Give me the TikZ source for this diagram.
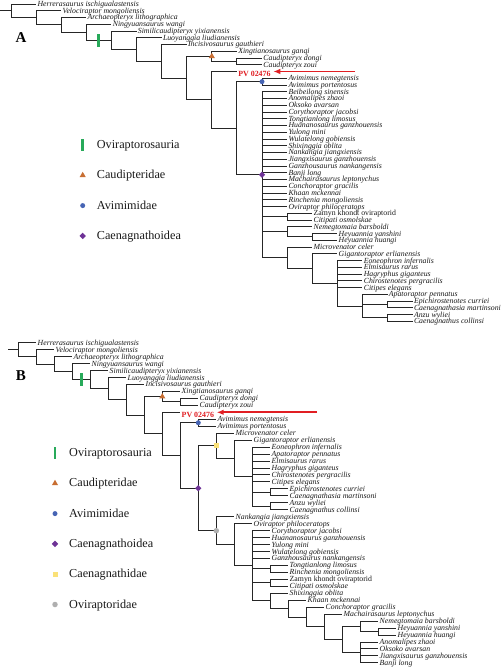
\documentclass[tikz,border=0pt]{standalone}
\usepackage{fontspec}
\setmainfont{Liberation Serif}
\usetikzlibrary{shapes.geometric, arrows.meta}

\definecolor{cladegreen}{RGB}{40,170,90}
\definecolor{caudorange}{RGB}{200,110,50}
\definecolor{aviblue}{RGB}{70,100,180}
\definecolor{caenpurple}{RGB}{110,50,150}
\definecolor{caenyellow}{RGB}{250,225,120}
\definecolor{ovigrey}{RGB}{175,175,175}
\definecolor{pvred}{RGB}{225,30,35}

\begin{document}
\begin{tikzpicture}[x=1pt, y=-1pt,
  branch/.style={line width=0.9pt, black!85},
  taxon/.style={anchor=base west, inner sep=0pt, xshift=1.2pt, yshift=-2.5pt, text=black!90, font=\fontsize{7.8}{8}\selectfont\itshape},
  plaintaxon/.style={taxon, font=\fontsize{7.8}{8}\selectfont},
  specimen/.style={taxon, yshift=-2.7pt, text=pvred, font=\fontsize{7.9}{8}\selectfont\bfseries},
  pointer/.style={-{Latex[length=7pt, width=5.5pt]}, line width=1.8pt, pvred, shorten >=2.5pt},
  legendtext/.style={anchor=base west, inner sep=0pt, xshift=14pt, yshift=-3.6pt, text=black!90, font=\fontsize{12.2}{13}\selectfont},
  panel/.style={font=\fontsize{15}{16}\selectfont\bfseries},
  barmark/.style={fill=cladegreen, rectangle, minimum width=2.8pt, minimum height=12.5pt, inner sep=0pt},
  trimark/.style={fill=caudorange, regular polygon, regular polygon sides=3, minimum size=7pt, inner sep=0pt},
  dotmark/.style={fill=aviblue, circle, minimum size=5pt, inner sep=0pt},
  diamark/.style={fill=caenpurple, diamond, minimum size=6.5pt, inner sep=0pt},
  sqmark/.style={fill=caenyellow, rectangle, minimum size=5pt, inner sep=0pt},
  greymark/.style={fill=ovigrey, circle, minimum size=5.5pt, inner sep=0pt},
]
\fill [white] (0, 0) rectangle (500, 671);
\useasboundingbox (0, 0) rectangle (500, 671);

\node [panel] (labelA) at (21, 37.5) {A};
\node [panel] (labelB) at (21, 375.8) {B};

\coordinate (aRoot) at (0, 10.91);
\coordinate (aN0) at (11.0, 10.91);
\coordinate (aN1) at (36.1, 17.82);
\coordinate (aN2) at (61.2, 24.88);
\coordinate (aN3) at (86.3, 32.26);
\coordinate (aN4) at (111.4, 40.26);
\coordinate (aN5) at (136.5, 49.52);
\coordinate (aN6) at (161.6, 61.29);
\coordinate (aN7) at (186.7, 78.08);
\coordinate (aCau) at (211.8, 56.31);
\coordinate (aCdy) at (236.9, 61.38);
\coordinate (aPV) at (211.8, 99.84);
\coordinate (aN9) at (236.9, 128.19);
\coordinate (aAvi) at (262.0, 81.63);
\coordinate (aCae) at (262.0, 174.75);
\coordinate (aZC) at (287.1, 216.63);
\coordinate (aNH) at (287.1, 231.81);
\coordinate (aHey) at (312.2, 236.88);
\coordinate (aN11) at (287.1, 257.76);
\coordinate (aN12) at (312.2, 268.52);
\coordinate (aN13) at (337.3, 283.28);
\coordinate (aN14) at (362.4, 306.06);
\coordinate (aEC) at (387.5, 304.38);
\coordinate (aAC) at (387.5, 317.88);

\coordinate (aHer) at (36.1, 4.00);
\coordinate (aVel) at (61.2, 10.75);
\coordinate (aArc) at (86.3, 17.50);
\coordinate (aNin) at (111.4, 24.25);
\coordinate (aSim) at (136.5, 31.00);
\coordinate (aLuo) at (161.6, 37.75);
\coordinate (aInc) at (186.7, 44.50);
\coordinate (aXin) at (236.9, 51.25);
\coordinate (aCdo) at (262.0, 58.00);
\coordinate (aCzo) at (262.0, 64.75);
\coordinate (aPVx) at (236.9, 71.50);
\coordinate (aAne) at (287.1, 78.25);
\coordinate (aApo) at (287.1, 85.00);
\coordinate (aBei) at (287.1, 91.75);
\coordinate (aAno) at (287.1, 98.50);
\coordinate (aOks) at (287.1, 105.25);
\coordinate (aCor) at (287.1, 112.00);
\coordinate (aTon) at (287.1, 118.75);
\coordinate (aHua) at (287.1, 125.50);
\coordinate (aYul) at (287.1, 132.25);
\coordinate (aWul) at (287.1, 139.00);
\coordinate (aShi) at (287.1, 145.75);
\coordinate (aNan) at (287.1, 152.50);
\coordinate (aJia) at (287.1, 159.25);
\coordinate (aGan) at (287.1, 166.00);
\coordinate (aBan) at (287.1, 172.75);
\coordinate (aMac) at (287.1, 179.50);
\coordinate (aCon) at (287.1, 186.25);
\coordinate (aKha) at (287.1, 193.00);
\coordinate (aRin) at (287.1, 199.75);
\coordinate (aOvi) at (287.1, 206.50);
\coordinate (aZam) at (312.2, 213.25);
\coordinate (aCit) at (312.2, 220.00);
\coordinate (aNem) at (312.2, 226.75);
\coordinate (aHya) at (337.3, 233.50);
\coordinate (aHhu) at (337.3, 240.25);
\coordinate (aMic) at (312.2, 247.00);
\coordinate (aGig) at (337.3, 253.75);
\coordinate (aEon) at (362.4, 260.50);
\coordinate (aElm) at (362.4, 267.25);
\coordinate (aHag) at (362.4, 274.00);
\coordinate (aChi) at (362.4, 280.75);
\coordinate (aCip) at (362.4, 287.50);
\coordinate (aApa) at (387.5, 294.25);
\coordinate (aEpi) at (412.6, 301.00);
\coordinate (aCna) at (412.6, 307.75);
\coordinate (aAnz) at (412.6, 314.50);
\coordinate (aCco) at (412.6, 321.25);

\draw [branch] (aRoot) -- (aN0);
\draw [branch] (aN0) |- (aHer) (aN0) |- (aN1);
\draw [branch] (aN1) |- (aVel) (aN1) |- (aN2);
\draw [branch] (aN2) |- (aArc) (aN2) |- (aN3);
\draw [branch] (aN3) |- (aNin) (aN3) |- (aN4);
\draw [branch] (aN4) |- (aSim) (aN4) |- (aN5);
\draw [branch] (aN5) |- (aLuo) (aN5) |- (aN6);
\draw [branch] (aN6) |- (aInc) (aN6) |- (aN7);
\draw [branch] (aN7) |- (aCau) (aN7) |- (aPV);
\draw [branch] (aCau) |- (aXin) (aCau) |- (aCdy);
\draw [branch] (aCdy) |- (aCdo) (aCdy) |- (aCzo);
\draw [branch] (aPV) |- (aPVx) (aPV) |- (aN9);
\draw [branch] (aN9) |- (aAvi) (aN9) |- (aCae);
\draw [branch] (aAvi) |- (aAne) (aAvi) |- (aApo);
\draw [branch] (aCae) |- (aBei) (aCae) |- (aAno) (aCae) |- (aOks) (aCae) |- (aCor) (aCae) |- (aTon) (aCae) |- (aHua);
\draw [branch] (aCae) |- (aYul) (aCae) |- (aWul) (aCae) |- (aShi) (aCae) |- (aNan) (aCae) |- (aJia) (aCae) |- (aGan);
\draw [branch] (aCae) |- (aBan) (aCae) |- (aMac) (aCae) |- (aCon) (aCae) |- (aKha) (aCae) |- (aRin) (aCae) |- (aOvi);
\draw [branch] (aCae) |- (aZC) (aCae) |- (aNH) (aCae) |- (aN11);
\draw [branch] (aZC) |- (aZam) (aZC) |- (aCit);
\draw [branch] (aNH) |- (aNem) (aNH) |- (aHey);
\draw [branch] (aHey) |- (aHya) (aHey) |- (aHhu);
\draw [branch] (aN11) |- (aMic) (aN11) |- (aN12);
\draw [branch] (aN12) |- (aGig) (aN12) |- (aN13);
\draw [branch] (aN13) |- (aEon) (aN13) |- (aElm) (aN13) |- (aHag) (aN13) |- (aChi) (aN13) |- (aCip) (aN13) |- (aN14);
\draw [branch] (aN14) |- (aApa) (aN14) |- (aEC) (aN14) |- (aAC);
\draw [branch] (aEC) |- (aEpi) (aEC) |- (aCna);
\draw [branch] (aAC) |- (aAnz) (aAC) |- (aCco);

\node [taxon] (aHerLabel) at (aHer) {Herrerasaurus ischigualastensis};
\node [taxon] (aVelLabel) at (aVel) {Velociraptor mongoliensis};
\node [taxon] (aArcLabel) at (aArc) {Archaeopteryx lithographica};
\node [taxon] (aNinLabel) at (aNin) {Ningyuansaurus wangi};
\node [taxon] (aSimLabel) at (aSim) {Similicaudipteryx yixianensis};
\node [taxon] (aLuoLabel) at (aLuo) {Luoyanggia liudianensis};
\node [taxon] (aIncLabel) at (aInc) {Incisivosaurus gauthieri};
\node [taxon] (aXinLabel) at (aXin) {Xingtianosaurus ganqi};
\node [taxon] (aCdoLabel) at (aCdo) {Caudipteryx dongi};
\node [taxon] (aCzoLabel) at (aCzo) {Caudipteryx zoui};
\node [specimen] (aPVLabel) at (aPVx) {PV 02476};
\node [taxon] (aAneLabel) at (aAne) {Avimimus nemegtensis};
\node [taxon] (aApoLabel) at (aApo) {Avimimus portentosus};
\node [taxon] (aBeiLabel) at (aBei) {Beibeilong sinensis};
\node [taxon] (aAnoLabel) at (aAno) {Anomalipes zhaoi};
\node [taxon] (aOksLabel) at (aOks) {Oksoko avarsan};
\node [taxon] (aCorLabel) at (aCor) {Corythoraptor jacobsi};
\node [taxon] (aTonLabel) at (aTon) {Tongtianlong limosus};
\node [taxon] (aHuaLabel) at (aHua) {Huananosaurus ganzhouensis};
\node [taxon] (aYulLabel) at (aYul) {Yulong mini};
\node [taxon] (aWulLabel) at (aWul) {Wulatelong gobiensis};
\node [taxon] (aShiLabel) at (aShi) {Shixinggia oblita};
\node [taxon] (aNanLabel) at (aNan) {Nankangia jiangxiensis};
\node [taxon] (aJiaLabel) at (aJia) {Jiangxisaurus ganzhouensis};
\node [taxon] (aGanLabel) at (aGan) {Ganzhousaurus nankangensis};
\node [taxon] (aBanLabel) at (aBan) {Banji long};
\node [taxon] (aMacLabel) at (aMac) {Machairasaurus leptonychus};
\node [taxon] (aConLabel) at (aCon) {Conchoraptor gracilis};
\node [taxon] (aKhaLabel) at (aKha) {Khaan mckennai};
\node [taxon] (aRinLabel) at (aRin) {Rinchenia mongoliensis};
\node [taxon] (aOviLabel) at (aOvi) {Oviraptor philoceratops};
\node [plaintaxon] (aZamLabel) at (aZam) {Zamyn khondt oviraptorid};
\node [taxon] (aCitLabel) at (aCit) {Citipati osmolskae};
\node [taxon] (aNemLabel) at (aNem) {Nemegtomaia barsboldi};
\node [taxon] (aHyaLabel) at (aHya) {Heyuannia yanshini};
\node [taxon] (aHhuLabel) at (aHhu) {Heyuannia huangi};
\node [taxon] (aMicLabel) at (aMic) {Microvenator celer};
\node [taxon] (aGigLabel) at (aGig) {Gigantoraptor erlianensis};
\node [taxon] (aEonLabel) at (aEon) {Eoneophron infernalis};
\node [taxon] (aElmLabel) at (aElm) {Elmisaurus rarus};
\node [taxon] (aHagLabel) at (aHag) {Hagryphus giganteus};
\node [taxon] (aChiLabel) at (aChi) {Chirostenotes pergracilis};
\node [taxon] (aCipLabel) at (aCip) {Citipes elegans};
\node [taxon] (aApaLabel) at (aApa) {Apatoraptor pennatus};
\node [taxon] (aEpiLabel) at (aEpi) {Epichirostenotes curriei};
\node [taxon] (aCnaLabel) at (aCna) {Caenagnathasia martinsoni};
\node [taxon] (aAnzLabel) at (aAnz) {Anzu wyliei};
\node [taxon] (aCcoLabel) at (aCco) {Caenagnathus collinsi};

\node [barmark] (aOviBar) at (98.85, 40.26) {};
\node [trimark] (aCauMark) at (aCau) {};
\node [dotmark] (aAviMark) at (aAvi) {};
\node [diamark] (aCaeMark) at (aCae) {};

\coordinate (aArrow) at (355, 71.5);
\draw [pointer] (aArrow) -- (aArrow -| aPVLabel.east);

\node [barmark] (aKeyOvi) at (82.7, 145.0) {};
\node [trimark] (aKeyCau) at (82.7, 175.3) {};
\node [dotmark] (aKeyAvi) at (82.7, 205.6) {};
\node [diamark] (aKeyCae) at (82.7, 235.9) {};
\node [legendtext] (aKeyOviText) at (aKeyOvi) {Oviraptorosauria};
\node [legendtext] (aKeyCauText) at (aKeyCau) {Caudipteridae};
\node [legendtext] (aKeyAviText) at (aKeyAvi) {Avimimidae};
\node [legendtext] (aKeyCaeText) at (aKeyCae) {Caenagnathoidea};

\coordinate (bRoot) at (8.3, 349.80);
\coordinate (bN0) at (18.3, 349.80);
\coordinate (bN1) at (36.3, 356.89);
\coordinate (bN2) at (54.3, 364.11);
\coordinate (bN3) at (72.3, 371.60);
\coordinate (bN4) at (90.3, 379.62);
\coordinate (bN5) at (108.3, 388.69);
\coordinate (bN6) at (126.3, 399.87);
\coordinate (bN7) at (144.3, 415.27);
\coordinate (bCau) at (162.3, 396.64);
\coordinate (bCdy) at (180.3, 401.86);
\coordinate (bPV) at (162.3, 433.90);
\coordinate (bN9) at (180.3, 455.50);
\coordinate (bAvi) at (198.3, 422.74);
\coordinate (bCae) at (198.3, 488.25);
\coordinate (bCnd) at (216.3, 445.80);
\coordinate (bN12c) at (234.3, 458.41);
\coordinate (bN13c) at (252.3, 476.68);
\coordinate (bEC) at (270.3, 492.34);
\coordinate (bAC) at (270.3, 506.26);
\coordinate (bOvd) at (216.3, 530.71);
\coordinate (bN12o) at (234.3, 544.72);
\coordinate (bN13o) at (252.3, 565.78);
\coordinate (bTR) at (270.3, 568.90);
\coordinate (bZC) at (270.3, 582.82);
\coordinate (bN14) at (270.3, 600.93);
\coordinate (bN15) at (288.3, 608.60);
\coordinate (bN16) at (306.3, 616.97);
\coordinate (bN17) at (324.3, 626.76);
\coordinate (bN18) at (342.3, 639.37);
\coordinate (bNH) at (360.3, 626.32);
\coordinate (bHey) at (378.3, 631.54);
\coordinate (bAOJ) at (360.3, 652.42);

\coordinate (bHer) at (36.3, 342.70);
\coordinate (bVel) at (54.3, 349.66);
\coordinate (bArc) at (72.3, 356.62);
\coordinate (bNin) at (90.3, 363.58);
\coordinate (bSim) at (108.3, 370.54);
\coordinate (bLuo) at (126.3, 377.50);
\coordinate (bInc) at (144.3, 384.46);
\coordinate (bXin) at (180.3, 391.42);
\coordinate (bCdo) at (198.3, 398.38);
\coordinate (bCzo) at (198.3, 405.34);
\coordinate (bPVx) at (180.3, 412.30);
\coordinate (bAne) at (216.3, 419.26);
\coordinate (bApo) at (216.3, 426.22);
\coordinate (bMic) at (234.3, 433.18);
\coordinate (bGig) at (252.3, 440.14);
\coordinate (bEon) at (270.3, 447.10);
\coordinate (bApa) at (270.3, 454.06);
\coordinate (bElm) at (270.3, 461.02);
\coordinate (bHag) at (270.3, 467.98);
\coordinate (bChi) at (270.3, 474.94);
\coordinate (bCip) at (270.3, 481.90);
\coordinate (bEpi) at (288.3, 488.86);
\coordinate (bCna) at (288.3, 495.82);
\coordinate (bAnz) at (288.3, 502.78);
\coordinate (bCco) at (288.3, 509.74);
\coordinate (bNan) at (234.3, 516.70);
\coordinate (bOvi) at (252.3, 523.66);
\coordinate (bCor) at (270.3, 530.62);
\coordinate (bHua) at (270.3, 537.58);
\coordinate (bYul) at (270.3, 544.54);
\coordinate (bWul) at (270.3, 551.50);
\coordinate (bGan) at (270.3, 558.46);
\coordinate (bTon) at (288.3, 565.42);
\coordinate (bRin) at (288.3, 572.38);
\coordinate (bZam) at (288.3, 579.34);
\coordinate (bCit) at (288.3, 586.30);
\coordinate (bShi) at (288.3, 593.26);
\coordinate (bKha) at (306.3, 600.22);
\coordinate (bCon) at (324.3, 607.18);
\coordinate (bMac) at (342.3, 614.14);
\coordinate (bNem) at (378.3, 621.10);
\coordinate (bHya) at (396.3, 628.06);
\coordinate (bHhu) at (396.3, 635.02);
\coordinate (bAno) at (378.3, 641.98);
\coordinate (bOks) at (378.3, 648.94);
\coordinate (bJia) at (378.3, 655.90);
\coordinate (bBan) at (378.3, 662.86);

\draw [branch] (bRoot) -- (bN0);
\draw [branch] (bN0) |- (bHer) (bN0) |- (bN1);
\draw [branch] (bN1) |- (bVel) (bN1) |- (bN2);
\draw [branch] (bN2) |- (bArc) (bN2) |- (bN3);
\draw [branch] (bN3) |- (bNin) (bN3) |- (bN4);
\draw [branch] (bN4) |- (bSim) (bN4) |- (bN5);
\draw [branch] (bN5) |- (bLuo) (bN5) |- (bN6);
\draw [branch] (bN6) |- (bInc) (bN6) |- (bN7);
\draw [branch] (bN7) |- (bCau) (bN7) |- (bPV);
\draw [branch] (bCau) |- (bXin) (bCau) |- (bCdy);
\draw [branch] (bCdy) |- (bCdo) (bCdy) |- (bCzo);
\draw [branch] (bPV) |- (bPVx) (bPV) |- (bN9);
\draw [branch] (bN9) |- (bAvi) (bN9) |- (bCae);
\draw [branch] (bAvi) |- (bAne) (bAvi) |- (bApo);
\draw [branch] (bCae) |- (bCnd) (bCae) |- (bOvd);
\draw [branch] (bCnd) |- (bMic) (bCnd) |- (bN12c);
\draw [branch] (bN12c) |- (bGig) (bN12c) |- (bN13c);
\draw [branch] (bN13c) |- (bEon) (bN13c) |- (bApa) (bN13c) |- (bElm) (bN13c) |- (bHag) (bN13c) |- (bChi) (bN13c) |- (bCip);
\draw [branch] (bN13c) |- (bEC) (bN13c) |- (bAC);
\draw [branch] (bEC) |- (bEpi) (bEC) |- (bCna);
\draw [branch] (bAC) |- (bAnz) (bAC) |- (bCco);
\draw [branch] (bOvd) |- (bNan) (bOvd) |- (bN12o);
\draw [branch] (bN12o) |- (bOvi) (bN12o) |- (bN13o);
\draw [branch] (bN13o) |- (bCor) (bN13o) |- (bHua) (bN13o) |- (bYul) (bN13o) |- (bWul) (bN13o) |- (bGan);
\draw [branch] (bN13o) |- (bTR) (bN13o) |- (bZC) (bN13o) |- (bN14);
\draw [branch] (bTR) |- (bTon) (bTR) |- (bRin);
\draw [branch] (bZC) |- (bZam) (bZC) |- (bCit);
\draw [branch] (bN14) |- (bShi) (bN14) |- (bN15);
\draw [branch] (bN15) |- (bKha) (bN15) |- (bN16);
\draw [branch] (bN16) |- (bCon) (bN16) |- (bN17);
\draw [branch] (bN17) |- (bMac) (bN17) |- (bN18);
\draw [branch] (bN18) |- (bNH) (bN18) |- (bAOJ);
\draw [branch] (bNH) |- (bNem) (bNH) |- (bHey);
\draw [branch] (bHey) |- (bHya) (bHey) |- (bHhu);
\draw [branch] (bAOJ) |- (bAno) (bAOJ) |- (bOks) (bAOJ) |- (bJia) (bAOJ) |- (bBan);

\node [taxon] (bHerLabel) at (bHer) {Herrerasaurus ischigualastensis};
\node [taxon] (bVelLabel) at (bVel) {Velociraptor mongoliensis};
\node [taxon] (bArcLabel) at (bArc) {Archaeopteryx lithographica};
\node [taxon] (bNinLabel) at (bNin) {Ningyuansaurus wangi};
\node [taxon] (bSimLabel) at (bSim) {Similicaudipteryx yixianensis};
\node [taxon] (bLuoLabel) at (bLuo) {Luoyanggia liudianensis};
\node [taxon] (bIncLabel) at (bInc) {Incisivosaurus gauthieri};
\node [taxon] (bXinLabel) at (bXin) {Xingtianosaurus ganqi};
\node [taxon] (bCdoLabel) at (bCdo) {Caudipteryx dongi};
\node [taxon] (bCzoLabel) at (bCzo) {Caudipteryx zoui};
\node [specimen] (bPVLabel) at (bPVx) {PV 02476};
\node [taxon] (bAneLabel) at (bAne) {Avimimus nemegtensis};
\node [taxon] (bApoLabel) at (bApo) {Avimimus portentosus};
\node [taxon] (bMicLabel) at (bMic) {Microvenator celer};
\node [taxon] (bGigLabel) at (bGig) {Gigantoraptor erlianensis};
\node [taxon] (bEonLabel) at (bEon) {Eoneophron infernalis};
\node [taxon] (bApaLabel) at (bApa) {Apatoraptor pennatus};
\node [taxon] (bElmLabel) at (bElm) {Elmisaurus rarus};
\node [taxon] (bHagLabel) at (bHag) {Hagryphus giganteus};
\node [taxon] (bChiLabel) at (bChi) {Chirostenotes pergracilis};
\node [taxon] (bCipLabel) at (bCip) {Citipes elegans};
\node [taxon] (bEpiLabel) at (bEpi) {Epichirostenotes curriei};
\node [taxon] (bCnaLabel) at (bCna) {Caenagnathasia martinsoni};
\node [taxon] (bAnzLabel) at (bAnz) {Anzu wyliei};
\node [taxon] (bCcoLabel) at (bCco) {Caenagnathus collinsi};
\node [taxon] (bNanLabel) at (bNan) {Nankangia jiangxiensis};
\node [taxon] (bOviLabel) at (bOvi) {Oviraptor philoceratops};
\node [taxon] (bCorLabel) at (bCor) {Corythoraptor jacobsi};
\node [taxon] (bHuaLabel) at (bHua) {Huananosaurus ganzhouensis};
\node [taxon] (bYulLabel) at (bYul) {Yulong mini};
\node [taxon] (bWulLabel) at (bWul) {Wulatelong gobiensis};
\node [taxon] (bGanLabel) at (bGan) {Ganzhousaurus nankangensis};
\node [taxon] (bTonLabel) at (bTon) {Tongtianlong limosus};
\node [taxon] (bRinLabel) at (bRin) {Rinchenia mongoliensis};
\node [plaintaxon] (bZamLabel) at (bZam) {Zamyn khondt oviraptorid};
\node [taxon] (bCitLabel) at (bCit) {Citipati osmolskae};
\node [taxon] (bShiLabel) at (bShi) {Shixinggia oblita};
\node [taxon] (bKhaLabel) at (bKha) {Khaan mckennai};
\node [taxon] (bConLabel) at (bCon) {Conchoraptor gracilis};
\node [taxon] (bMacLabel) at (bMac) {Machairasaurus leptonychus};
\node [taxon] (bNemLabel) at (bNem) {Nemegtomaia barsboldi};
\node [taxon] (bHyaLabel) at (bHya) {Heyuannia yanshini};
\node [taxon] (bHhuLabel) at (bHhu) {Heyuannia huangi};
\node [taxon] (bAnoLabel) at (bAno) {Anomalipes zhaoi};
\node [taxon] (bOksLabel) at (bOks) {Oksoko avarsan};
\node [taxon] (bJiaLabel) at (bJia) {Jiangxisaurus ganzhouensis};
\node [taxon] (bBanLabel) at (bBan) {Banji long};

\node [barmark] (bOviBar) at (81.3, 379.62) {};
\node [trimark] (bCauMark) at (bCau) {};
\node [dotmark] (bAviMark) at (bAvi) {};
\node [diamark] (bCaeMark) at (bCae) {};
\node [sqmark] (bCndMark) at (bCnd) {};
\node [greymark] (bOvdMark) at (bOvd) {};

\coordinate (bArrow) at (317, 412.3);
\draw [pointer] (bArrow) -- (bArrow -| bPVLabel.east);

\node [barmark] (bKeyOvi) at (55, 453.0) {};
\node [trimark] (bKeyCau) at (55, 483.3) {};
\node [dotmark] (bKeyAvi) at (55, 513.6) {};
\node [diamark] (bKeyCae) at (55, 543.9) {};
\node [sqmark] (bKeyCnd) at (55, 574.2) {};
\node [greymark] (bKeyOvd) at (55, 604.5) {};
\node [legendtext] (bKeyOviText) at (bKeyOvi) {Oviraptorosauria};
\node [legendtext] (bKeyCauText) at (bKeyCau) {Caudipteridae};
\node [legendtext] (bKeyAviText) at (bKeyAvi) {Avimimidae};
\node [legendtext] (bKeyCaeText) at (bKeyCae) {Caenagnathoidea};
\node [legendtext] (bKeyCndText) at (bKeyCnd) {Caenagnathidae};
\node [legendtext] (bKeyOvdText) at (bKeyOvd) {Oviraptoridae};
\end{tikzpicture}
\end{document}
